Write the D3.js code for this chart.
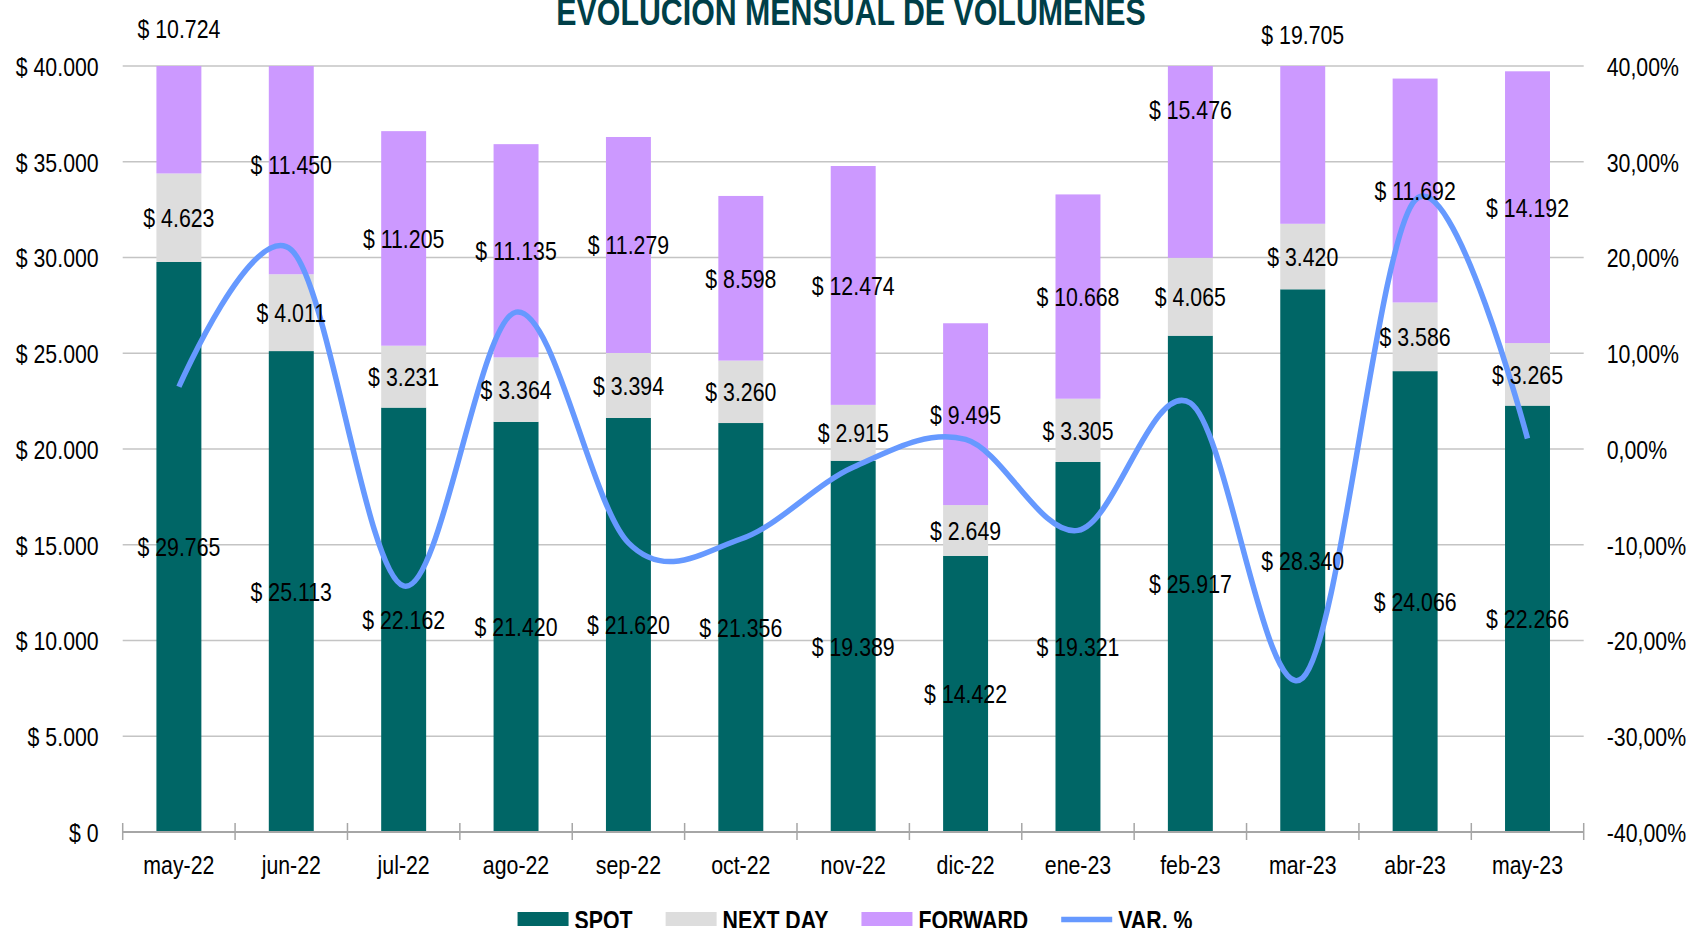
<!DOCTYPE html>
<html>
<head>
<meta charset="utf-8">
<script src="https://cdn.jsdelivr.net/npm/d3@7"></script>
<style>
  html, body { margin: 0; padding: 0; background: #ffffff; overflow: hidden; }
  svg { display: block; font-family: "Liberation Sans", Arial, sans-serif; }
</style>
</head>
<body>
<svg id="chart" width="1687" height="928"></svg>
<script>
// Monthly traded volumes by settlement type, plus month-over-month variation
const months = ["may-22", "jun-22", "jul-22", "ago-22", "sep-22", "oct-22", "nov-22",
                "dic-22", "ene-23", "feb-23", "mar-23", "abr-23", "may-23"];
const spot     = [29765, 25113, 22162, 21420, 21620, 21356, 19389, 14422, 19321, 25917, 28340, 24066, 22266];
const nextDay  = [4623, 4011, 3231, 3364, 3394, 3260, 2915, 2649, 3305, 4065, 3420, 3586, 3265];
const forward  = [10724, 11450, 11205, 11135, 11279, 8598, 12474, 9495, 10668, 15476, 19705, 11692, 14192];
const varPct   = [6.5, 20.8, -14.3, 14.3, -9.8, -9.4, -1.9, 1.0, -8.5, 4.8, -23.9, 26.0, 1.1];

const volumeTicks = [0, 5000, 10000, 15000, 20000, 25000, 30000, 35000, 40000];
const pctTicks = [-40, -30, -20, -10, 0, 10, 20, 30, 40];

const seriesNames = ["SPOT", "NEXT DAY", "FORWARD", "VAR. %"];
const colors = { spot: "#006666", nextDay: "#dddddd", forward: "#cc99ff", line: "#6699ff" };
const titleText = "EVOLUCION MENSUAL DE VOLUMENES";

const esAR = d3.formatLocale({ decimal: ",", thousands: ".", grouping: [3], currency: ["$ ", ""], minus: "-" });
const fmtMoney = esAR.format("$,.0f");
const fmtPct = v => esAR.format(".2f")(v) + "%";

// condensed lettering: horizontally squeeze each text around its anchor point
const NARROW = 0.82;
function narrow(sel) {
  sel.each(function () {
    const t = d3.select(this);
    const tx = +t.attr("x") || 0, ty = +t.attr("y") || 0;
    t.attr("x", 0).attr("y", 0)
     .attr("transform", `translate(${tx},${ty}) scale(${NARROW},1)`);
  });
}

const svg = d3.select("#chart");
const plot = { left: 122.7, right: 1583.7, top: 66, bottom: 832 };

const x = d3.scaleBand().domain(months).range([plot.left, plot.right]).paddingInner(0.6).paddingOuter(0.3);
const y = d3.scaleLinear().domain([0, 40000]).range([plot.bottom, plot.top]);
const y2 = d3.scaleLinear().domain([-40, 40]).range([plot.bottom, plot.top]);
const cx = m => x(m) + x.bandwidth() / 2;

// title
svg.append("text")
  .attr("x", 851).attr("y", 25)
  .attr("text-anchor", "middle")
  .attr("font-size", 37).attr("font-weight", "bold")
  .attr("fill", "#003f48")
  .text(titleText)
  .call(narrow);

// horizontal gridlines
svg.append("g").selectAll("line")
  .data(volumeTicks.filter(t => t > 0))
  .join("line")
  .attr("x1", plot.left).attr("x2", plot.right)
  .attr("y1", d => y(d)).attr("y2", d => y(d))
  .attr("stroke", "#c4c4c4").attr("stroke-width", 1.5);

// left axis labels
const leftAxis = d3.axisLeft(y).tickValues(volumeTicks).tickFormat(fmtMoney).tickSize(0).tickPadding(24);
svg.append("g").attr("transform", `translate(${plot.left},0)`).call(leftAxis)
  .call(g => g.select(".domain").remove())
  .call(g => g.selectAll("text").attr("font-size", 26).attr("fill", "#000").attr("font-family", null).attr("dy", "0.36em").call(narrow));

// right axis labels
const rightAxis = d3.axisRight(y2).tickValues(pctTicks).tickFormat(fmtPct).tickSize(0).tickPadding(23);
svg.append("g").attr("transform", `translate(${plot.right},0)`).call(rightAxis)
  .call(g => g.select(".domain").remove())
  .call(g => g.selectAll("text").attr("font-size", 26).attr("fill", "#000").attr("font-family", null).attr("dy", "0.36em").call(narrow));

// stacked bars, clipped to the plot area
svg.append("clipPath").attr("id", "plotClip")
  .append("rect").attr("x", plot.left).attr("y", plot.top)
  .attr("width", plot.right - plot.left).attr("height", plot.bottom - plot.top);

const rows = months.map((m, i) => ({ m, spot: spot[i], nextDay: nextDay[i], forward: forward[i] }));
const stack = d3.stack().keys(["spot", "nextDay", "forward"])(rows);

const bars = svg.append("g").attr("clip-path", "url(#plotClip)");
stack.forEach(layer => {
  bars.append("g").selectAll("rect")
    .data(layer)
    .join("rect")
    .attr("x", d => x(d.data.m))
    .attr("width", x.bandwidth())
    .attr("y", d => y(d[1]))
    .attr("height", d => y(d[0]) - y(d[1]))
    .attr("fill", colors[layer.key]);
});

// category axis with crossing tick marks
const xAxisG = svg.append("g");
xAxisG.append("line")
  .attr("x1", plot.left).attr("x2", plot.right)
  .attr("y1", plot.bottom).attr("y2", plot.bottom)
  .attr("stroke", "#a6a6a6").attr("stroke-width", 2);
const boundaries = months.map(m => x(m) - x.step() * x.paddingInner() / 2).concat([plot.right]);
boundaries[0] = plot.left;
xAxisG.selectAll("line.tick")
  .data(boundaries)
  .join("line").attr("class", "tick")
  .attr("x1", d => d).attr("x2", d => d)
  .attr("y1", plot.bottom - 9).attr("y2", plot.bottom + 8)
  .attr("stroke", "#a6a6a6").attr("stroke-width", 1.5);
xAxisG.selectAll("text")
  .data(months)
  .join("text")
  .attr("x", d => cx(d)).attr("y", 874)
  .attr("text-anchor", "middle").attr("font-size", 26).attr("fill", "#000")
  .text(d => d)
  .call(narrow);

// variation line (smoothed)
const line = d3.line()
  .x((d, i) => cx(months[i]))
  .y(d => y2(d))
  .curve(d3.curveCatmullRom.alpha(0));
svg.append("path")
  .datum(varPct)
  .attr("d", line)
  .attr("fill", "none")
  .attr("stroke", colors.line)
  .attr("stroke-width", 5.5)
  .attr("stroke-linecap", "butt");

// data labels centred in each segment
const forwardLabelLift = { 0: -42 }; // first month's label sits above the top gridline
const labels = svg.append("g").attr("font-size", 26).attr("fill", "#000").attr("text-anchor", "middle");
stack.forEach(layer => {
  labels.append("g").selectAll("text")
    .data(layer)
    .join("text")
    .attr("x", d => cx(d.data.m))
    .attr("y", (d, i) => y((d[0] + d[1]) / 2) + (layer.key === "forward" && forwardLabelLift[i] ? forwardLabelLift[i] : 0))
    .attr("dy", "0.36em")
    .text(d => fmtMoney(d.data[layer.key]))
    .call(narrow);
});

// legend
const legend = svg.append("g");
const legendItems = [
  { name: seriesNames[0], color: colors.spot, type: "rect" },
  { name: seriesNames[1], color: colors.nextDay, type: "rect" },
  { name: seriesNames[2], color: colors.forward, type: "rect" },
  { name: seriesNames[3], color: colors.line, type: "line" }
];
let lx = 0;
const legendBaseline = 929;
legendItems.forEach(it => {
  const g = legend.append("g").attr("transform", `translate(${lx},0)`);
  if (it.type === "rect") {
    g.append("rect").attr("x", 0).attr("y", 912).attr("width", 51).attr("height", 14).attr("fill", it.color);
  } else {
    g.append("line").attr("x1", 0).attr("x2", 51).attr("y1", 919.5).attr("y2", 919.5)
      .attr("stroke", it.color).attr("stroke-width", 5.5);
  }
  const t = g.append("text").attr("x", 57).attr("y", legendBaseline)
    .attr("font-size", 26).attr("font-weight", "bold").attr("fill", "#000").text(it.name);
  const w = t.node().getComputedTextLength() * NARROW;
  t.call(narrow);
  lx += 57 + w + 33;
});
const legendWidth = lx - 33;
legend.attr("transform", `translate(${855 - legendWidth / 2},0)`);
</script>
</body>
</html>
